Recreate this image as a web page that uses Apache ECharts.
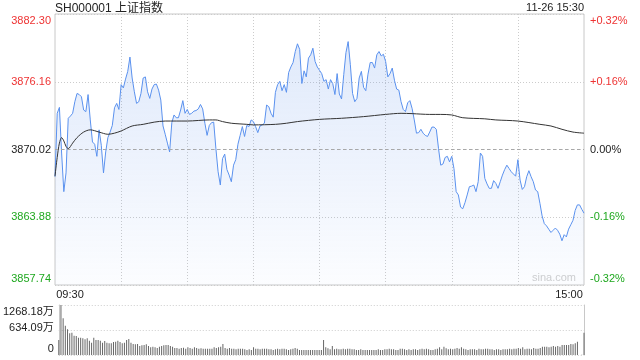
<!DOCTYPE html>
<html><head><meta charset="utf-8">
<script src="https://cdn.jsdelivr.net/npm/echarts@6/dist/echarts.min.js"></script>
<style>html,body{margin:0;padding:0;background:#fff}#c{width:640px;height:360px}</style>
</head><body><div id="c"></div>
<script>
const titleText = 'SH000001 上证指数';
const dateText = '11-26 15:30';
const watermark = 'sina.com';
const prevClose = 3870.02;
const priceMin = 3857.74, priceMax = 3882.30, priceStep = 6.14;
const priceTicks = ['3857.74','3863.88','3870.02','3876.16','3882.30'];
const pctTicks = ['-0.32%','-0.16%','0.00%','+0.16%','+0.32%'];
const volMax = 1268.18, volStep = 634.09;
const volTicks = ['0','634.09万','1268.18万'];
const timeTicks = ['09:30','15:00'];

const price = [
3867.56,3873.3,3873.84,3869.7,3866.2,3867.9,3872.85,3873.05,3873.3,3874.35,
3875.1,3875.0,3874.8,3873.6,3873.45,3875.0,3872.7,3870.7,3870.5,3869.4,
3871.8,3870.4,3867.9,3869.8,3871.1,3871.6,3872.2,3873.8,3874.2,3873.65,
3875.9,3875.6,3876.4,3877.1,3878.4,3876.5,3875.25,3874.2,3874.35,3875.1,
3876.5,3876.6,3875.25,3874.65,3875.5,3875.9,3875.95,3875.4,3874.5,3872.15,
3871.4,3870.6,3869.8,3872.45,3873.15,3872.9,3872.9,3873.6,3874.45,3873.3,
3873.65,3873.2,3873.3,3873.5,3873.55,3873.7,3874.1,3873.7,3872.4,3871.3,
3872.2,3872.45,3872.5,3870.1,3868.0,3866.8,3869.2,3869.6,3868.2,3867.7,
3867.1,3868.6,3869.1,3870.5,3871.3,3872.1,3871.2,3872.2,3872.1,3872.7,
3872.55,3872.1,3871.55,3872.15,3872.25,3872.4,3874.05,3873.9,3873.3,3872.95,
3875.2,3875.9,3876.2,3875.35,3875.9,3875.2,3877.0,3877.5,3877.9,3878.9,
3879.6,3879.1,3876.0,3877.15,3876.6,3878.3,3878.6,3879.2,3878.0,3877.5,
3877.2,3876.9,3876.2,3876.35,3875.5,3876.35,3876.0,3875.0,3876.9,3875.05,
3874.6,3876.8,3878.8,3879.8,3877.7,3875.1,3874.35,3874.65,3876.5,3877.1,
3875.65,3875.35,3876.85,3877.9,3877.9,3877.4,3878.6,3878.9,3878.5,3878.65,
3878.0,3876.6,3876.9,3877.4,3876.3,3875.5,3875.4,3874.35,3873.65,3873.45,
3874.25,3874.45,3873.75,3872.7,3871.5,3871.55,3871.85,3871.5,3871.3,3871.2,
3871.6,3872.05,3872.05,3871.85,3870.1,3868.6,3868.7,3869.3,3869.4,3868.9,
3869.4,3868.3,3866.2,3865.9,3864.8,3864.65,3865.2,3865.9,3866.65,3866.7,
3866.8,3866.2,3867.1,3869.7,3869.4,3867.4,3866.9,3866.5,3866.5,3867.2,
3866.95,3866.5,3867.1,3867.7,3868.2,3868.6,3868.3,3868.0,3867.8,3867.6,
3869.1,3867.25,3866.4,3866.65,3867.55,3868.1,3867.55,3867.1,3866.35,3866.2,
3865.15,3864.0,3863.3,3863.1,3862.8,3862.5,3862.7,3862.9,3862.7,3862.35,
3861.75,3862.3,3862.1,3862.8,3863.2,3863.6,3864.5,3865.0,3865.0,3864.6,
3864.25
];

const avgPrice = [
[0,3867.6],[1,3869.3],[2,3870.6],[3,3871.1],[4,3870.8],[5,3870.3],[6,3870.1],[8,3870.6],
[10,3871.1],[13,3871.6],[16,3871.8],[20,3871.6],[24,3871.4],[27,3871.5],[30,3871.7],
[35,3872.15],[40,3872.3],[45,3872.5],[50,3872.6],[60,3872.6],[70,3872.7],[73,3872.7],
[76,3872.55],[80,3872.4],[87,3872.3],[90,3872.25],[100,3872.3],[105,3872.4],[110,3872.55],
[120,3872.75],[130,3872.85],[140,3873.0],[150,3873.2],[157,3873.3],[162,3873.27],
[170,3873.2],[175,3873.2],[180,3873.15],[185,3872.9],[195,3872.8],[200,3872.7],
[210,3872.6],[220,3872.3],[225,3872.15],[230,3871.85],[235,3871.6],[240,3871.5]
];

const volume = [
380,1268.18,930,744,651,550,566,490,482,440,
440,423,397,423,364,313,440,380,380,364,
313,355,313,296,296,330,338,364,330,296,
313,380,406,313,279,270,279,228,245,254,
270,228,194,211,194,178,211,228,245,254,
254,228,211,178,178,161,178,186,161,194,
178,161,194,178,161,169,161,161,161,161,
161,194,178,194,211,279,178,161,178,161,
161,144,161,161,161,144,127,144,127,194,
161,161,144,161,161,161,144,144,127,144,
161,144,161,161,144,127,144,161,178,161,
127,127,127,127,127,127,127,127,127,127,
127,
380,194,169,144,228,144,161,144,144,161,
144,161,161,144,144,127,127,144,127,127,
127,127,127,127,127,144,127,127,144,144,
161,144,144,127,127,161,161,144,127,144,
127,144,144,127,144,161,144,161,144,127,
127,144,161,194,144,211,169,144,161,144,
161,178,161,194,161,144,127,144,144,144,
127,161,144,144,161,161,144,144,127,144,
144,127,144,144,144,161,144,161,161,178,
161,194,144,161,161,144,178,161,161,178,
211,211,211,194,211,228,211,228,211,254,
254,254,254,279,270,300,338,0,6,566
];

function hm(m){const h=Math.floor(m/60),mm=m%60;return (h<10?'0':'')+h+':'+(mm<10?'0':'')+mm;}
const times = [];
for (let m = 0; m <= 120; m++) times.push(hm(9*60+30+m));
for (let m = 1; m <= 120; m++) times.push(hm(13*60+m));

const RED = '#ee3333', GREEN = '#1fa81f', BLACK = '#222';
const FONT = 'Arial, "Liberation Sans", "Noto Sans CJK SC", sans-serif';
const lab = (c, pad) => ({color: c, fontSize: 11, fontFamily: FONT, padding: pad});
const richY = {
  rT: lab(RED, [13,0,0,0]), r: lab(RED, [0,0,0,0]), k: lab(BLACK, [0,0,0,0]),
  g: lab(GREEN, [0,0,0,0]), gB: lab(GREEN, [0,0,13,0]),
  vT: lab(BLACK, [13,0,0,0]), vM: lab(BLACK, [0,0,5,0]), vB: lab(BLACK, [0,0,13,0]),
  tL: lab(BLACK, [0,0,0,30]), tR: lab(BLACK, [0,0,0,0])
};
richY.tR.padding = [0,30,0,0];
const styleFor = ['gB','g','k','r','rT'];

const chart = echarts.init(document.getElementById('c'), null, {renderer: 'canvas'});
const gridL = 55, gridR = 56;
chart.setOption({
  animation: false,
  textStyle: {fontFamily: FONT},
  title: [
    {text: titleText, left: 55, top: 3, padding: 0, textStyle: {fontSize: 12, fontWeight: 'normal', color: '#222', fontFamily: FONT, lineHeight: 12}},
    {text: dateText, right: gridR, top: 2, padding: 0, textStyle: {fontSize: 11, fontWeight: 'normal', color: '#222', fontFamily: FONT, lineHeight: 12}}
  ],
  graphic: [{type: 'text', right: 64, top: 272, silent: true,
    style: {text: watermark, fill: '#cfcfcf', font: '11px ' + FONT}}],
  grid: [
    {left: gridL, right: gridR, top: 14, height: 271, show: true, borderColor: '#c8c8c8', borderWidth: 1},
    {left: gridL, right: gridR, top: 305, height: 50}
  ],
  xAxis: [
    {type: 'category', gridIndex: 0, data: times, boundaryGap: false,
     axisLine: {show: false}, axisTick: {show: false},
     axisLabel: {show: true, margin: 4, interval: (i) => i === 0 || i === times.length - 1,
       formatter: (v, i) => i === 0 ? '{tL|' + timeTicks[0] + '}' : '{tR|' + timeTicks[1] + '}', rich: richY},
     splitLine: {show: true, interval: (i) => i > 0 && i < times.length - 1 && i % 30 === 0,
       lineStyle: {color: '#cccccc', type: [1, 2], width: 1}}},
    {type: 'category', gridIndex: 1, data: times, boundaryGap: false,
     axisLine: {show: false}, axisTick: {show: false}, axisLabel: {show: false}, splitLine: {show: false}}
  ],
  yAxis: [
    {type: 'value', gridIndex: 0, min: priceMin, max: priceMax, interval: priceStep, scale: true,
     axisLine: {show: false}, axisTick: {show: false},
     axisLabel: {margin: 4, formatter: (v) => {const k = Math.round((v - priceMin) / priceStep); return '{' + styleFor[k] + '|' + priceTicks[k] + '}';}, rich: richY},
     splitLine: {show: true, lineStyle: {color: '#cccccc', type: [1, 2], width: 1}}},
    {type: 'value', gridIndex: 0, position: 'right', min: -0.32, max: 0.32, interval: 0.16,
     axisLine: {show: false}, axisTick: {show: false},
     axisLabel: {margin: 6, formatter: (v) => {const k = Math.round((v + 0.32) / 0.16); return '{' + styleFor[k] + '|' + pctTicks[k] + '}';}, rich: richY},
     splitLine: {show: false}},
    {type: 'value', gridIndex: 1, min: 0, max: volMax, interval: volStep,
     axisLine: {show: true, lineStyle: {color: '#c8c8c8'}}, axisTick: {show: false},
     axisLabel: {margin: 5, formatter: (v) => {const k = Math.round(v / volStep); return '{' + ['vB','vM','vT'][k] + '|' + volTicks[k] + '}';}, rich: richY},
     splitLine: {show: true, lineStyle: {color: '#cccccc', type: [1, 2], width: 1}}},
    {type: 'value', gridIndex: 1, position: 'right', min: 0, max: volMax, interval: volStep,
     axisLine: {show: true, lineStyle: {color: '#c8c8c8'}}, axisTick: {show: false},
     axisLabel: {show: false}, splitLine: {show: false}}
  ],
  series: [
    {type: 'line', xAxisIndex: 0, yAxisIndex: 0, data: price, symbol: 'none', z: 3,
     lineStyle: {color: '#5a91ee', width: 1},
     areaStyle: {color: new echarts.graphic.LinearGradient(0, 0, 0, 1, [
       {offset: 0, color: 'rgba(95,145,235,0.28)'}, {offset: 1, color: 'rgba(95,145,235,0.03)'}])},
     markLine: {silent: true, symbol: 'none', label: {show: false}, z: 5,
       lineStyle: {color: '#a8a8a8', type: [3, 3], width: 1}, data: [{yAxis: prevClose}]}},
    {type: 'line', xAxisIndex: 0, yAxisIndex: 0, data: avgPrice, symbol: 'none', smooth: 0.3, z: 4,
     lineStyle: {color: '#333', width: 1}},
    {type: 'bar', xAxisIndex: 1, yAxisIndex: 2, data: volume, barWidth: 1,
     itemStyle: {color: '#666'}}
  ]
});
</script></body></html>
